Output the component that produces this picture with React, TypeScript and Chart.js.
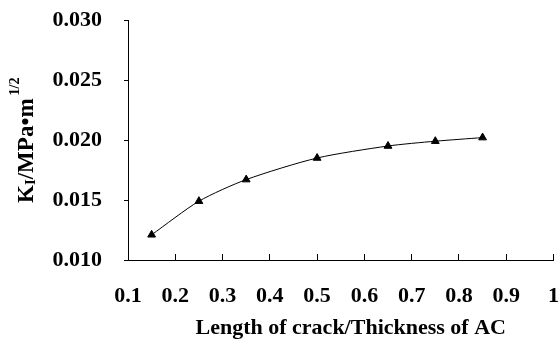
import React, { useEffect, useRef } from "react";
import { Chart, registerables } from "chart.js";

Chart.register(...registerables);

const xValues = [0.15, 0.25, 0.35, 0.5, 0.65, 0.75, 0.85];
const kValues = [0.0121, 0.0149, 0.0167, 0.0185, 0.0195, 0.0199, 0.0202];
const xTitle = "Length of crack/Thickness of AC";
const yTitleParts = ["K", "I", "/MPa•m", "1/2"];

const FONT = '"Liberation Serif", "Times New Roman", serif';

const titlePlugin = {
  id: "customTitles",
  afterDraw(chart: any) {
    const ctx = chart.ctx;
    const area = chart.chartArea;
    ctx.save();
    ctx.fillStyle = "#000";
    // x title
    ctx.font = `bold 22px ${FONT}`;
    ctx.textAlign = "center";
    ctx.textBaseline = "middle";
    ctx.fillText(xTitle, area.left + (area.right - area.left) / 2 + 10, 328);
    // y title (rotated)
    ctx.translate(33, 203);
    ctx.rotate(-Math.PI / 2);
    ctx.textAlign = "left";
    ctx.textBaseline = "alphabetic";
    let x = 0;
    ctx.font = `bold 23px ${FONT}`;
    ctx.fillText(yTitleParts[0], x, 0);
    x += ctx.measureText(yTitleParts[0]).width;
    ctx.font = `bold 15px ${FONT}`;
    ctx.fillText(yTitleParts[1], x, 2);
    x += ctx.measureText(yTitleParts[1]).width;
    ctx.font = `bold 23px ${FONT}`;
    ctx.fillText(yTitleParts[2], x, 0);
    x += ctx.measureText(yTitleParts[2]).width;
    ctx.font = `bold 14px ${FONT}`;
    ctx.fillText(yTitleParts[3], x + 3, -14);
    ctx.restore();
  },
};

export default function App() {
  const ref = useRef<HTMLCanvasElement>(null);
  useEffect(() => {
    const chart = new Chart(ref.current!, {
      type: "line",
      data: {
        datasets: [
          {
            data: xValues.map((x, i) => ({ x, y: kValues[i] })),
            borderColor: "#000",
            backgroundColor: "#000",
            borderWidth: 1,
            pointStyle: "triangle",
            pointRadius: 4.5,
            pointBorderWidth: 1,
            tension: 0.25,
          },
        ],
      },
      options: {
        animation: false,
        responsive: true,
        maintainAspectRatio: false,
        layout: { padding: { top: 20, right: 4, left: 0, bottom: 0 } },
        plugins: { legend: { display: false }, tooltip: { enabled: false } },
        scales: {
          x: {
            type: "linear",
            min: 0.1,
            max: 1,
            afterFit: (s: any) => {
              s.height = 87;
              s.paddingLeft = 0;
              s.paddingRight = 0;
            },
            ticks: {
              stepSize: 0.1,
              autoSkip: false,
              maxRotation: 0,
              color: "#000",
              padding: 29,
              font: { family: FONT, size: 22, weight: "bold" },
              callback: (v: any) => String(Math.round(Number(v) * 10) / 10),
            },
            grid: { drawOnChartArea: false, tickLength: -6, color: "#000" },
            border: { display: true, color: "#000", width: 1 },
          },
          y: {
            min: 0.01,
            max: 0.03,
            afterFit: (s: any) => {
              s.width = 128;
              s.paddingTop = 0;
              s.paddingBottom = 0;
            },
            ticks: {
              stepSize: 0.005,
              color: "#000",
              padding: 22,
              font: { family: FONT, size: 22, weight: "bold" },
              callback: (v: any) => Number(v).toFixed(3),
            },
            grid: { drawOnChartArea: false, tickLength: 4, color: "#000" },
            border: { display: true, color: "#000", width: 1 },
          },
        },
      },
      plugins: [titlePlugin],
    } as any);
    return () => chart.destroy();
  }, []);
  return (
    <div style={{ position: "absolute", left: 0, top: 0, width: 559, height: 347, background: "#fff" }}>
      <canvas ref={ref} />
    </div>
  );
}
